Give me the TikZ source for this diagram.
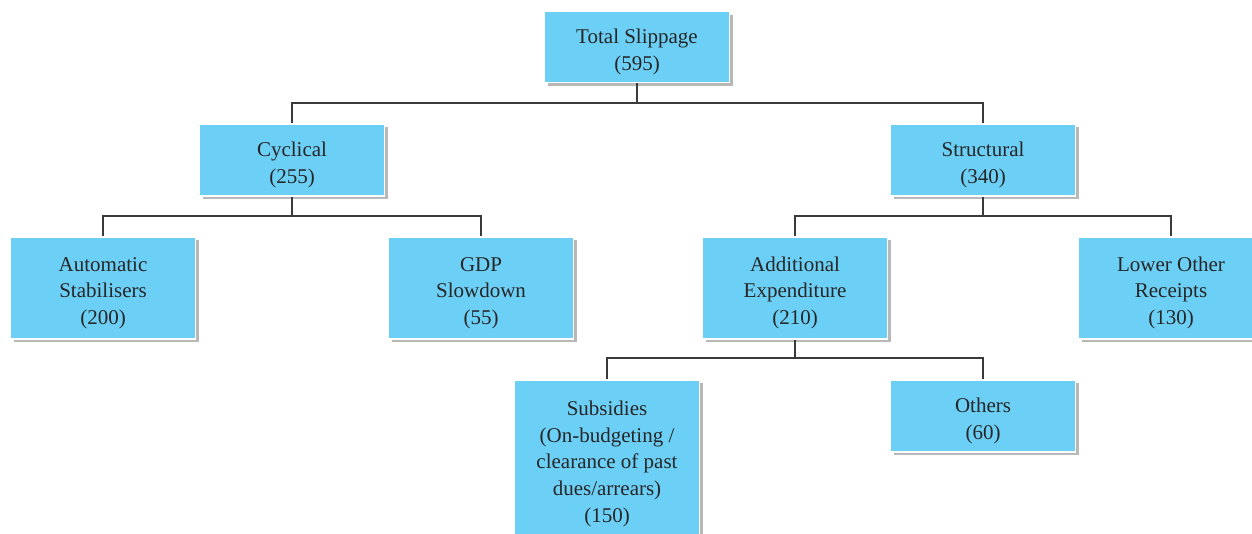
\documentclass[tikz,border=0pt]{standalone}
\usepackage{fontspec}
\setmainfont{Liberation Serif}
\usetikzlibrary{shadows}
\definecolor{boxblue}{HTML}{6CCFF6}
\definecolor{linegrey}{HTML}{3A3A3A}
\newcommand\topstrut{\rule{0pt}{24pt}}
\begin{document}
\begin{tikzpicture}[x=1pt,y=-1pt,
  box/.style={draw=white, line width=1.2pt, fill=boxblue, minimum width=185pt,
    align=center, font=\fontsize{21}{26.7}\selectfont, text=black!85, inner sep=0pt,
    drop shadow={shadow xshift=3pt, shadow yshift=-3pt, fill=black!35, opacity=0.8}},
  conn/.style={draw=linegrey, line width=1.2pt}]
\useasboundingbox (0,0) rectangle (1252,533);
\node[box, minimum height=71pt] (total) at (637,47) {\topstrut Total Slippage\\(595)};
\node[box, minimum height=72pt] (cyc) at (292,160) {\topstrut Cyclical\\(255)};
\node[box, minimum height=72pt] (str) at (983,160) {\topstrut Structural\\(340)};
\node[box, minimum height=102pt] (auto) at (103,288) {\topstrut Automatic\\Stabilisers\\(200)};
\node[box, minimum height=102pt] (gdp) at (481,288) {\topstrut GDP\\Slowdown\\(55)};
\node[box, minimum height=102pt] (add) at (795,288) {\topstrut Additional\\Expenditure\\(210)};
\node[box, minimum height=102pt] (low) at (1171,288) {\topstrut Lower Other\\Receipts\\(130)};
\node[box, minimum height=158pt] (sub) at (607,459) {\topstrut Subsidies\\(On-budgeting /\\clearance of past\\dues/arrears)\\(150)};
\node[box, minimum height=72pt] (oth) at (983,416) {\topstrut Others\\(60)};
\coordinate (j1) at (637,103);
\coordinate (j2) at (292,216);
\coordinate (j3) at (983,216);
\coordinate (j4) at (795,358);
\draw[conn] (total.south) -- (j1) -| (cyc.north);
\draw[conn] (j1) -| (str.north);
\draw[conn] (cyc.south) -- (j2) -| (auto.north);
\draw[conn] (j2) -| (gdp.north);
\draw[conn] (str.south) -- (j3) -| (add.north);
\draw[conn] (j3) -| (low.north);
\draw[conn] (add.south) -- (j4) -| (sub.north);
\draw[conn] (j4) -| (oth.north);
\end{tikzpicture}
\end{document}
